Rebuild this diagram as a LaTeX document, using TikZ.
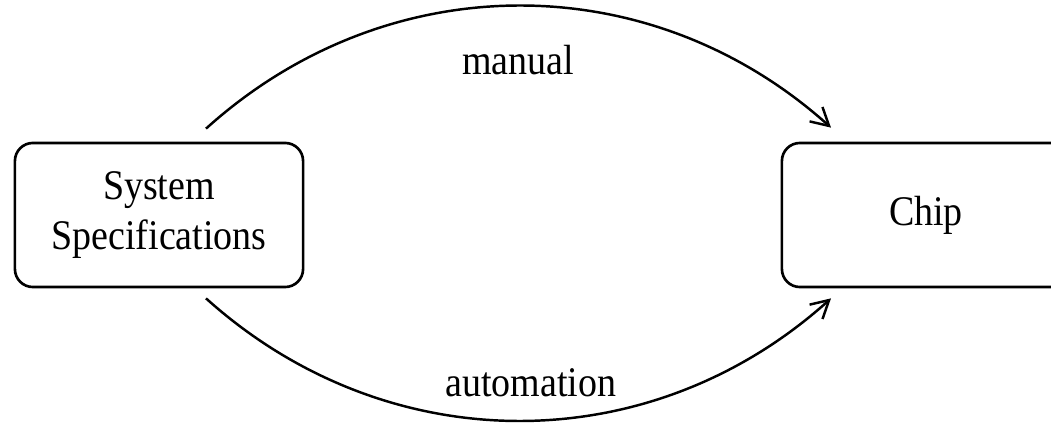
\documentclass[tikz,border=0pt]{standalone}
\usepackage{fontspec}
\setmainfont[FakeStretch=0.9]{Liberation Serif}
\usetikzlibrary{arrows.meta,calc}

\begin{document}
\begin{tikzpicture}[
        % 全局設定:一個單位約為一個像素
        x=0.01cm, y=0.01cm,
        % 方塊樣式:黑框、圓角
        block/.style={
            draw=black,
            rounded corners=0.18cm,
            minimum width=2.88cm,
            minimum height=1.44cm,
            line width=0.75pt,
            align=center,
            font=\fontsize{12}{14.2}\selectfont
        },
        % 弧線樣式
        flow/.style={
            draw,
            line width=0.7pt,
            -{Straight Barb[length=5pt,width=5.5pt]}
        },
        % 文字標籤樣式
        label_text/.style={
            font=\fontsize{12}{14.2}\selectfont,
            inner sep=0pt
        }
    ]

    \clip (0,0) rectangle (1051,430);

    % --- 兩個方塊 ---
    \node[block] (spec) at (159,215) {System\\Specifications};
    \node[block] (chip) at (926,215) {Chip};

    % --- 上方弧線 (manual) ---
    \draw[flow] ($(spec.north)+(47,13)$) to[bend left=42] ($(chip.north)+(-95,14)$);
    \node[label_text] (manual) at (518,370) {manual};

    % --- 下方弧線 (automation) ---
    \draw[flow] ($(spec.south)+(47,-10)$) to[bend right=42] ($(chip.south)+(-95,-10)$);
    \node[label_text] (auto) at (531,47) {automation};
\end{tikzpicture}
\end{document}
